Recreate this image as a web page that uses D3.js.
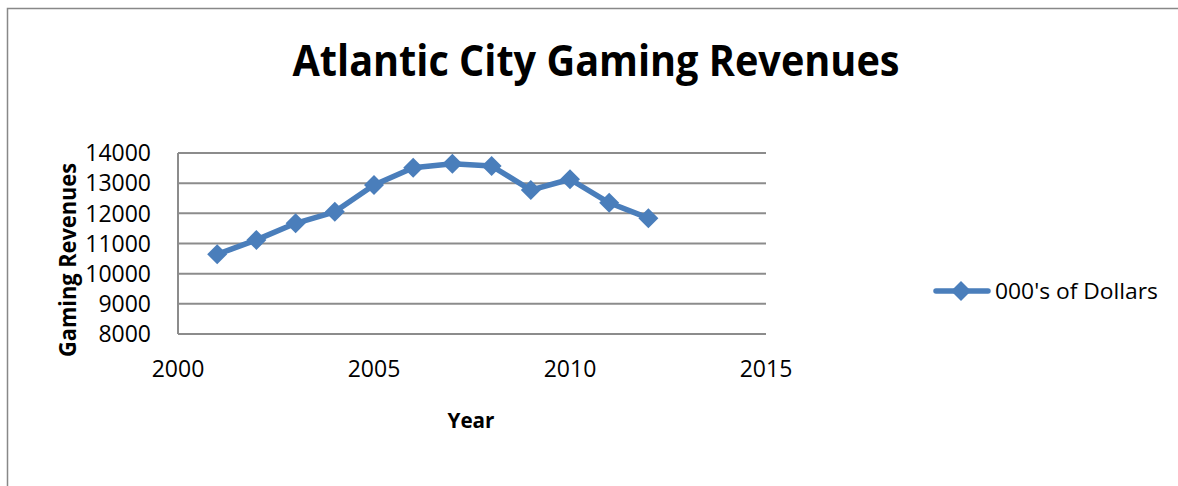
<!DOCTYPE html>
<html>
<head>
<meta charset="utf-8">
<script src="https://cdn.jsdelivr.net/npm/d3@7"></script>
<style>
html,body{margin:0;padding:0;background:#fff;}
svg{display:block;}
text{font-family:"Open Sans","Liberation Sans",sans-serif;fill:#000;}
</style>
</head>
<body>
<svg id="chart" width="1178" height="486"></svg>
<script>
const years = [2001,2002,2003,2004,2005,2006,2007,2008,2009,2010,2011,2012];
const revenues = [10640,11120,11670,12050,12940,13510,13640,13570,12770,13130,12350,11840];
const seriesName = "000's of Dollars";
const xTicks = [2000,2005,2010,2015];
const yTicks = [8000,9000,10000,11000,12000,13000,14000];
const titleText = "Atlantic City Gaming Revenues";
const xTitle = "Year";
const yTitle = "Gaming Revenues";

const svg = d3.select("#chart");
const W = 1178, H = 486;
const blue = "#4a7ebb", grid = "#8c8c8c";

// chart border
svg.append("rect").attr("x",7.5).attr("y",8.5).attr("width",W+20).attr("height",H+20)
  .attr("fill","#fff").attr("stroke","#888").attr("stroke-width",1.5);

const pl = 178, pr = 766, pt = 153, pb = 334;
const x = d3.scaleLinear().domain([2000,2015]).range([pl,pr]);
const y = d3.scaleLinear().domain([8000,14000]).range([pb,pt]);

// gridlines
svg.append("g").selectAll("line").data(yTicks).join("line")
  .attr("x1",pl).attr("x2",pr).attr("y1",d=>y(d)).attr("y2",d=>y(d))
  .attr("stroke",grid).attr("stroke-width",2);
// left axis line
svg.append("line").attr("x1",pl).attr("x2",pl).attr("y1",pt).attr("y2",pb)
  .attr("stroke",grid).attr("stroke-width",2);

// y tick labels
svg.append("g").selectAll("text").data(yTicks).join("text")
  .attr("x",151).attr("y",d=>y(d)).attr("dy","0.36em")
  .attr("text-anchor","end").attr("font-size",23)
  .text(d=>d);
// x tick labels
svg.append("g").selectAll("text").data(xTicks).join("text")
  .attr("x",d=>x(d)).attr("y",377)
  .attr("text-anchor","middle").attr("font-size",23)
  .text(d=>d);

// title
svg.append("text").attr("x",596).attr("y",76).attr("text-anchor","middle")
  .attr("font-size",43).attr("font-weight","bold")
  .attr("textLength",607).attr("lengthAdjust","spacingAndGlyphs")
  .text(titleText);
// axis titles
svg.append("text").attr("x",471).attr("y",428).attr("text-anchor","middle")
  .attr("font-size",22).attr("font-weight","bold")
  .attr("textLength",47).attr("lengthAdjust","spacingAndGlyphs")
  .text(xTitle);
svg.append("text").attr("transform","translate(76,260) rotate(-90)")
  .attr("text-anchor","middle").attr("font-size",24).attr("font-weight","bold")
  .attr("textLength",194).attr("lengthAdjust","spacingAndGlyphs")
  .text(yTitle);

// series
const data = years.map((d,i)=>({yr:d,v:revenues[i]}));
svg.append("path").datum(data)
  .attr("d",d3.line().x(d=>x(d.yr)).y(d=>y(d.v)))
  .attr("fill","none").attr("stroke",blue).attr("stroke-width",5.5)
  .attr("stroke-linejoin","round").attr("stroke-linecap","round");
const diamond = "M0,-10L10,0L0,10L-10,0Z";
svg.append("g").selectAll("path").data(data).join("path")
  .attr("transform",d=>`translate(${x(d.yr)},${y(d.v)})`)
  .attr("d",diamond).attr("fill",blue);

// legend
const lg = svg.append("g").attr("transform","translate(0,291)");
lg.append("line").attr("x1",936).attr("x2",988).attr("y1",0).attr("y2",0)
  .attr("stroke",blue).attr("stroke-width",5.5).attr("stroke-linecap","round");
lg.append("path").attr("transform","translate(961,0)").attr("d",diamond).attr("fill",blue);
lg.append("text").attr("x",995).attr("y",0).attr("dy","0.36em")
  .attr("font-size",22).attr("textLength",163).attr("lengthAdjust","spacingAndGlyphs")
  .text(seriesName);
</script>
</body>
</html>
